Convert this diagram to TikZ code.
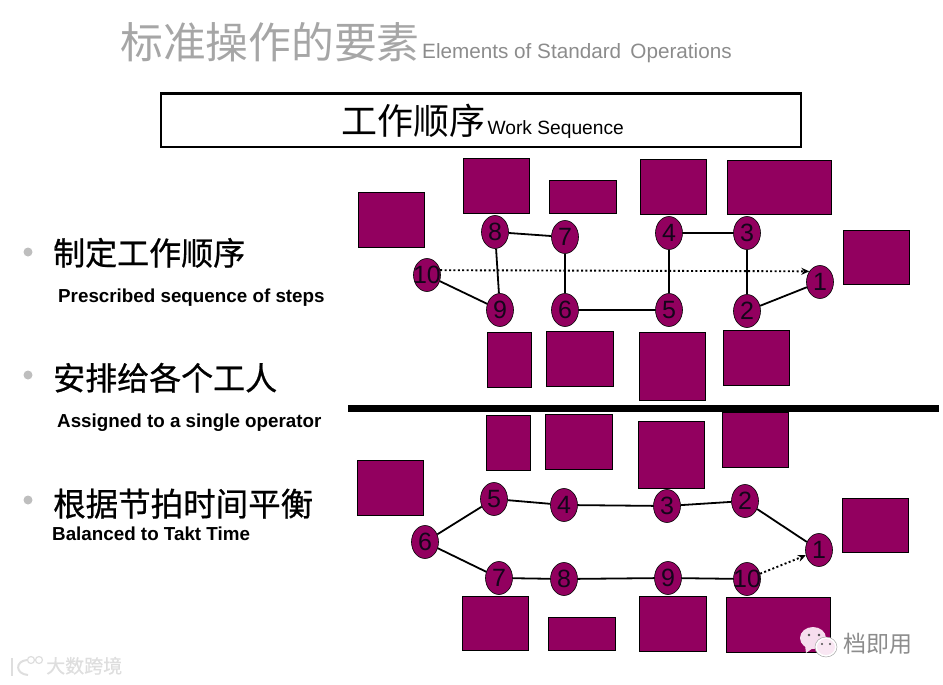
\documentclass[tikz,border=0pt]{standalone}
\usepackage{fontspec}
\setmainfont{Liberation Sans}
\newfontfamily\cjk{Noto Sans CJK SC}
\newfontfamily\cjkb[FakeBold=0.7]{Noto Sans CJK SC}
\usepackage{xcolor}
\usetikzlibrary{arrows.meta,positioning,shapes.geometric}
\definecolor{Plum}{HTML}{92005F}
\definecolor{Ink}{HTML}{14051A}
\definecolor{TitleG}{HTML}{A6A6A6}
\definecolor{BulletG}{HTML}{BEBEBE}
\definecolor{MarkG}{HTML}{8C8C8C}
\definecolor{LogoG}{HTML}{DEDEDE}
\definecolor{BubbleF}{HTML}{F6DDEE}

\newcommand{\fs}[1]{\fontsize{#1}{#1}\selectfont}

\begin{document}
\begin{tikzpicture}[x=1pt,y=-1pt,
    station/.style={draw=black,fill=Plum,line width=0.7pt,anchor=north west,inner sep=0pt,outer sep=0pt},
    num/.style={ellipse,draw=black,fill=Plum,line width=0.6pt,minimum width=27pt,minimum height=33pt,
      inner sep=0pt,text=Ink,font=\fs{25}},
    link/.style={draw=black,line width=1.8pt},
    dotlink/.style={draw=black,line width=1.9pt,dash pattern=on 2pt off 2.4pt,-{Stealth[length=8pt,width=7pt]}},
    bulletdot/.style={circle,fill=BulletG,minimum size=9pt,inner sep=0pt},
    stepcn/.style={anchor=base west,inner sep=0pt,font=\cjkb\fs{32}},
    stepen/.style={anchor=base west,inner sep=0pt,font=\bfseries\fs{18.8}}]
  \useasboundingbox (0,0) rectangle (943,685);

  % title
  \node[anchor=base west,inner sep=0pt,text=TitleG,font=\cjk\fs{42.8}] (title) at (120,59) {标准操作的要素};
  \node[anchor=base west,inner sep=0pt,text=MarkG,font=\fs{20.7}] (titleen) at ([xshift=2pt]title.base east) {Elements of Standard\, Operations};

  % banner
  \node[draw=black,line width=2.5pt,minimum width=640pt,minimum height=53pt,anchor=north west,inner sep=0pt] (banner) at (159.5,92.5) {};
  \node[anchor=base west,inner sep=0pt,font=\cjk\fs{36}] (bannercn) at (341,134) {工作顺序};
  \node[anchor=base west,inner sep=0pt,font=\fs{19.2}] (banneren) at ([xshift=2pt]bannercn.base east) {Work Sequence};

  % left column
  \node[bulletdot] (b1) at (28,252) {};
  \node[bulletdot] (b2) at (28,375) {};
  \node[bulletdot] (b3) at (28,500) {};
  \node[stepcn] (s1) at (53,265) {制定工作顺序};
  \node[stepen] (e1) at (58,302) {Prescribed sequence of steps};
  \node[stepcn] (s2) at (53,390) {安排给各个工人};
  \node[stepen] (e2) at (57,427) {Assigned to a single operator};
  \node[stepcn,font=\cjkb\fs{32.5}] (s3) at (53,516) {根据节拍时间平衡};
  \node[stepen] (e3) at (52,540) {Balanced to Takt Time};

  % stations
  \foreach \nm/\xa/\ya/\bw/\bh in {a/358/192/66/55,b/463/158/66/55,c/549/180/67/33,d/640/159/66/55,
      e/727/160/104/54,f/843/230/66/54,g/487/332/44/55,h/546/331/67/55,i/639/332/66/68,j/723/330/66/55,
      k/357/460/66/55,l/486/415/44/55,m/545/414/67/55,n/638/421/66/67,o/722/412/66/55,
      p/842/498/66/54,q/462/596/66/54,r/548/617/67/33,s/639/596/67/55,t/726/597/104/55}
    \node[station,minimum width=\bw pt,minimum height=\bh pt] (box\nm) at (\xa,\ya) {};

  % upper sequence
  \foreach \nm/\xa/\ya in {1/820/282,2/747/311,3/747/233,4/669/233,5/669/310,6/565/310,7/565/237,8/495/232,9/500/310,10/427/275}
    \node[num] (u\nm) at (\xa,\ya) {\makebox[0pt]{\nm}};
  \draw[link] (u1) -- (u2);
  \draw[link] (u2) -- (u3);
  \draw[link] (u3) -- (u4);
  \draw[link] (u4) -- (u5);
  \draw[link] (u5) -- (u6);
  \draw[link] (u6) -- (u7);
  \draw[link] (u7) -- (u8);
  \draw[link] (u8) -- (u9);
  \draw[link] (u9) -- (u10);
  \draw[dotlink] (u10.20) -- (u1.135);

  \node[draw=none,fill=black,minimum width=591pt,minimum height=7pt,inner sep=0pt,anchor=west] (divider) at (348,408) {};

  % lower sequence
  \foreach \nm/\xa/\ya in {1/819/550,2/745/501,3/667/506,4/564/505,5/494/499,6/425/542,7/499/578,8/564/579,9/668/578,10/747/579}
    \node[num] (v\nm) at (\xa,\ya) {\makebox[0pt]{\nm}};
  \draw[link] (v1) -- (v2);
  \draw[link] (v2) -- (v3);
  \draw[link] (v3) -- (v4);
  \draw[link] (v4) -- (v5);
  \draw[link] (v5) -- (v6);
  \draw[link] (v6) -- (v7);
  \draw[link] (v7) -- (v8);
  \draw[link] (v8) -- (v9);
  \draw[link] (v9) -- (v10);
  \draw[dotlink] (v10) -- (v1);

  % watermarks
  \fill[BubbleF] (813,638) ellipse (13 and 11);
  \fill[BubbleF] (805,645) -- (806,653) -- (813,648) -- cycle;
  \fill[black!70] (809,635) circle (1.3) (819,635) circle (1.3);
  \draw[fill=white,draw=black!35,line width=0.5pt] (826,647) ellipse (11 and 10);
  \fill[BubbleF!70] (826,647) ellipse (9 and 8);
  \fill[black!70] (822,644) circle (1.1) (830,644) circle (1.1);
  \node[anchor=base west,inner sep=0pt,text=MarkG,font=\cjk\fs{23}] (markcn) at (843,652) {档即用};
  \draw[LogoG,line width=2pt] (12,658) -- (12,676);
  \draw[LogoG,line width=2pt] (27,660) .. controls (15,661) and (15,674) .. (28,675);
  \draw[LogoG,line width=1.2pt] (31,660) circle (3.5) (39,660) circle (3.5);
  \node[anchor=base west,inner sep=0pt,text=LogoG,font=\cjkb\fs{19}] (logocn) at (46,673) {大数跨境};
\end{tikzpicture}
\end{document}
